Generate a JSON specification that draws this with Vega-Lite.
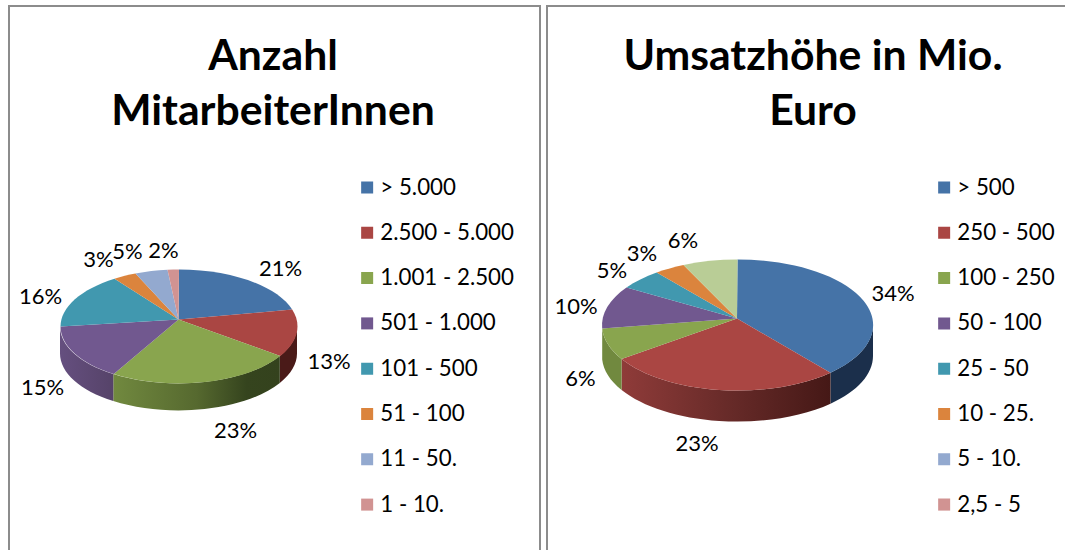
{
"$schema":"https://vega.github.io/schema/vega-lite/v6.json",
"padding":{"left":8,"top":5,"right":0,"bottom":0},
"background":"white",
"spacing":5,
"resolve":{"scale":{"color":"independent","shape":"independent","x":"independent","y":"independent"},"legend":{"color":"independent"}},
"config":{"view":{"stroke":"#8c8c8c","strokeWidth":2,"fill":"white"},
"font":"Lato",
"title":{"font":"Lato","fontSize":42.7,"fontWeight":"bold","color":"black","lineHeight":55,"offset":-128,"anchor":"middle","baseline":"middle"},
"legend":{"orient":"none","title":null,"padding":0,"labelFont":"Lato","labelFontSize":22.3,"labelColor":"black","symbolType":"square","symbolSize":144,"symbolStrokeWidth":0,"symbolOpacity":1,"labelOffset":2,"rowPadding":18.3,"labelLimit":200,"clipHeight":27}},
"hconcat":[
{"width":531,"height":560,
"title":{"text":["Anzahl","MitarbeiterInnen"],"dx":-1.5},
"data":{"values":[
{"cat":"> 5.000","share":0.21,"order":1},
{"cat":"2.500 - 5.000","share":0.13,"order":2},
{"cat":"1.001 - 2.500","share":0.23,"order":3},
{"cat":"501 - 1.000","share":0.15,"order":4},
{"cat":"101 - 500","share":0.16,"order":5},
{"cat":"51 - 100","share":0.03,"order":6},
{"cat":"11 - 50.","share":0.05,"order":7},
{"cat":"1 - 10.","share":0.02,"order":8}]},
"layer":[
{"transform":[{"filter":"datum.order==2"}],
"mark":{"type":"point","filled":true,"opacity":1,"strokeWidth":0,"size":4,"shape":"M22.5,40.5 A118.5,57 0 0 1 5.3,70 L5.3,97 A118.5,57 0 0 0 22.5,67.5 Z","fill":"#4a1a18"}},
{"transform":[{"filter":"datum.order==3"}],
"mark":{"type":"point","filled":true,"opacity":1,"strokeWidth":0,"size":4,"shape":"M5.3,70 A118.5,57 0 0 1 -161.2,88.1 L-161.2,115.1 A118.5,57 0 0 0 5.3,97 Z","fill":{"gradient":"linear","x1":0,"x2":1,"y1":0,"y2":0,"stops":[{"offset":0,"color":"#71893f"},{"offset":0.5,"color":"#56692f"},{"offset":0.8,"color":"#35441e"},{"offset":1,"color":"#34421d"}]}}},
{"transform":[{"filter":"datum.order==4"}],
"mark":{"type":"point","filled":true,"opacity":1,"strokeWidth":0,"size":4,"shape":"M-161.2,88.1 A118.5,57 0 0 1 -214.5,40.5 L-214.5,67.5 A118.5,57 0 0 0 -161.2,115.1 Z","fill":{"gradient":"linear","x1":0,"x2":1,"y1":0,"y2":0,"stops":[{"offset":0,"color":"#654f7f"},{"offset":1,"color":"#564369"}]}}},
{"mark":{"type":"point","filled":true,"opacity":1,"strokeWidth":0,"size":4},
"encoding":{
"color":{"field":"cat","type":"nominal","scale":{"domain":["> 5.000","2.500 - 5.000","1.001 - 2.500","501 - 1.000","101 - 500","51 - 100","11 - 50.","1 - 10."],"range":["#4573a7","#aa4643","#89a54e","#71588f","#4198af","#db843d","#93a9cf","#d19392"]},
"legend":{"legendX":347,"legendY":168,"values":["> 5.000","2.500 - 5.000","1.001 - 2.500","501 - 1.000","101 - 500","51 - 100","11 - 50.","1 - 10."]}},
"shape":{"field":"cat","type":"nominal","legend":null,"scale":{"domain":["1 - 10.","11 - 50.","51 - 100","101 - 500","501 - 1.000","1.001 - 2.500","2.500 - 5.000","> 5.000"],"range":[
"M-96,33.5 L-107,-16.2 A118.5,57 0 0 1 -95.5,-16.5 Z",
"M-96,33.5 L-139,-12.5 A118.5,57 0 0 1 -107,-16.2 Z",
"M-96,33.5 L-160,-7.3 A118.5,57 0 0 1 -139,-12.5 Z",
"M-96,33.5 L-214,40.5 A118.5,57 0 0 1 -160,-7.3 Z",
"M-96,33.5 L-160.7,88.1 A118.5,57 0 0 1 -214,40.5 Z",
"M-96,33.5 L5.8,70 A118.5,57 0 0 1 -160.7,88.1 Z",
"M-96,33.5 L17.7,23.6 A118.5,57 0 0 1 5.8,70 Z",
"M-96,33.5 L-95.5,-16.5 A118.5,57 0 0 1 17.7,23.6 Z"]}}}},
{"mark":{"type":"text","font":"Lato","fontSize":22,"color":"black"},
"encoding":{
"text":{"field":"share","type":"quantitative","format":".0%"},
"x":{"field":"order","type":"quantitative","axis":null,"scale":{"domain":[1,2,3,4,5,6,7,8],"range":[271.5,320,226.5,33.5,31.5,89.5,118.5,154.5],"zero":false,"nice":false}},
"y":{"field":"order","type":"quantitative","axis":null,"scale":{"domain":[1,2,3,4,5,6,7,8],"range":[262.5,355.5,424.5,381.5,290.5,253.5,245.5,244.5],"zero":false,"nice":false}}}}
]},
{"width":532,"height":560,
"title":{"text":["Umsatzhöhe in Mio.","Euro"]},
"data":{"values":[
{"cat":"> 500","share":0.34,"order":1},
{"cat":"250 - 500","share":0.23,"order":2},
{"cat":"100 - 250","share":0.06,"order":3},
{"cat":"50 - 100","share":0.10,"order":4},
{"cat":"25 - 50","share":0.05,"order":5},
{"cat":"10 - 25.","share":0.03,"order":6},
{"cat":"< 2,5","share":0.06,"order":7}]},
"layer":[
{"transform":[{"filter":"datum.order==1"}],
"mark":{"type":"point","filled":true,"opacity":1,"strokeWidth":0,"size":4,"shape":"M60,39 A135.5,65.5 0 0 1 17.5,86.7 L17.5,117.7 A135.5,65.5 0 0 0 60,70 Z","fill":"#1b2f4b"}},
{"transform":[{"filter":"datum.order==2"}],
"mark":{"type":"point","filled":true,"opacity":1,"strokeWidth":0,"size":4,"shape":"M17.5,86.7 A135.5,65.5 0 0 1 -191.4,72.9 L-191.4,103.9 A135.5,65.5 0 0 0 17.5,117.7 Z","fill":{"gradient":"linear","x1":0,"x2":1,"y1":0,"y2":0,"stops":[{"offset":0,"color":"#8f3b39"},{"offset":0.5,"color":"#682b29"},{"offset":1,"color":"#451816"}]}}},
{"transform":[{"filter":"datum.order==3"}],
"mark":{"type":"point","filled":true,"opacity":1,"strokeWidth":0,"size":4,"shape":"M-191.4,72.9 A135.5,65.5 0 0 1 -210.8,42.4 L-210.8,73.4 A135.5,65.5 0 0 0 -191.4,103.9 Z","fill":"#71893f"}},
{"mark":{"type":"point","filled":true,"opacity":1,"strokeWidth":0,"size":4},
"encoding":{
"color":{"field":"cat","type":"nominal","scale":{"domain":["> 500","250 - 500","100 - 250","50 - 100","25 - 50","10 - 25.","5 - 10.","2,5 - 5","< 2,5"],"range":["#4573a7","#aa4643","#89a54e","#71588f","#4198af","#db843d","#93a9cf","#d19392","#b9cd96"]},
"legend":{"legendX":386,"legendY":168,"values":["> 500","250 - 500","100 - 250","50 - 100","25 - 50","10 - 25.","5 - 10.","2,5 - 5"]}},
"shape":{"field":"cat","type":"nominal","legend":null,"scale":{"domain":["> 500","250 - 500","100 - 250","50 - 100","25 - 50","10 - 25.","< 2,5"],"range":[
"M-76,32.5 L-75.5,-26.5 A135.5,65.5 0 0 1 17.5,86.7 Z",
"M-76,32.5 L17.5,86.7 A135.5,65.5 0 0 1 -191.4,72.9 Z",
"M-76,32.5 L-191.4,72.9 A135.5,65.5 0 0 1 -210.8,42.4 Z",
"M-76,32.5 L-210.8,42.4 A135.5,65.5 0 0 1 -186.5,1.4 Z",
"M-76,32.5 L-186.5,1.4 A135.5,65.5 0 0 1 -156.3,-13.6 Z",
"M-76,32.5 L-156.3,-13.6 A135.5,65.5 0 0 1 -129.5,-21.1 Z",
"M-76,32.5 L-129.5,-21.1 A135.5,65.5 0 0 1 -75.5,-26.5 Z"]}}}},
{"mark":{"type":"text","font":"Lato","fontSize":22,"color":"black"},
"encoding":{
"text":{"field":"share","type":"quantitative","format":".0%"},
"x":{"field":"order","type":"quantitative","axis":null,"scale":{"domain":[1,2,3,4,5,6,7],"range":[346,150,33.5,29,65,95,136],"zero":false,"nice":false}},
"y":{"field":"order","type":"quantitative","axis":null,"scale":{"domain":[1,2,3,4,5,6,7],"range":[287.5,437.5,373,300.5,265,248,235],"zero":false,"nice":false}}}}
]}
]}
